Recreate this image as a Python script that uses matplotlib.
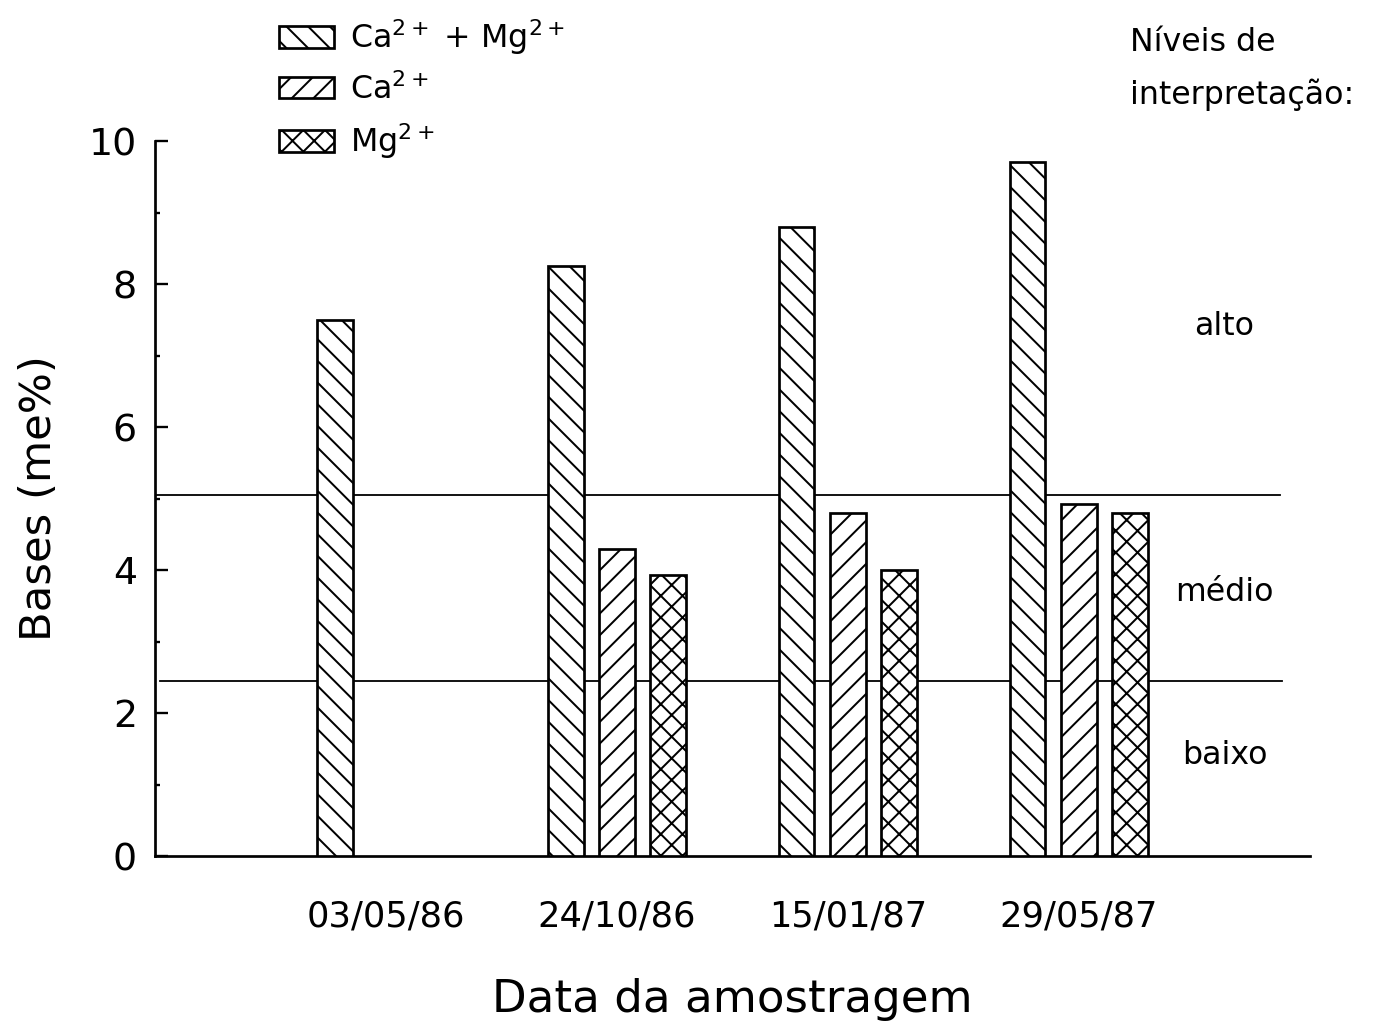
import numpy as np
import matplotlib
matplotlib.use("Agg")
import matplotlib.pyplot as plt

plt.rcParams["font.family"] = ["DejaVu Sans"]
plt.rcParams["mathtext.fontset"] = "dejavusans"
plt.rcParams["hatch.linewidth"] = 1.1

# ── data ────────────────────────────────────────────────────────────────
dates = ["03/05/86", "24/10/86", "15/01/87", "29/05/87"]
ca_mg = [7.5, 8.25, 8.8, 9.7]
ca = [np.nan, 4.3, 4.8, 4.92]
mg = [np.nan, 3.93, 4.0, 4.8]

limit_medio = 2.45   # baixo / médio boundary
limit_alto = 5.05    # médio / alto boundary
levels = ["alto", "médio", "baixo"]
level_y = [7.4, 3.68, 1.4]

INK = "black"
BAR_W = 0.152
STEP = 0.221

fig = plt.figure(figsize=(1377 / 130, 1022 / 130), dpi=130)
ax = fig.add_axes([0.1126, 0.1624, 0.9513 - 0.1126, 0.862 - 0.1624])

x = np.arange(1, len(dates) + 1)
series = [
    (ca_mg, "\\\\", r"Ca$^{2+}$ + Mg$^{2+}$"),
    (ca, "//", r"Ca$^{2+}$"),
    (mg, "xx", r"Mg$^{2+}$"),
]
handles = []
for i, (vals, hatch, label) in enumerate(series):
    bars = ax.bar(x + (i - 1) * STEP, vals, BAR_W, facecolor="white",
                  edgecolor=INK, hatch=hatch, lw=1.5, zorder=3, label=label)
    handles.append(bars)

# interpretation levels
ax.plot([0, 4.87], [limit_alto, limit_alto], color=INK, lw=1.0, zorder=1)
ax.plot([0.02, 4.88], [limit_medio, limit_medio], color=INK, lw=1.0, zorder=1)
for name, yy in zip(levels, level_y):
    ax.text(4.63, yy, name, ha="center", va="center", fontsize=17.5, color=INK)

ax.set_xlim(0, 5)
ax.set_ylim(0, 10)
ax.set_xticks(x)
ax.set_xticklabels(dates, fontsize=19.5)
ax.tick_params(axis="x", length=0, pad=24)
ax.set_yticks(np.arange(0, 11, 2))
ax.set_yticks(np.arange(1, 10, 2), minor=True)
ax.tick_params(axis="y", which="major", direction="in", length=7, width=1.3,
               labelsize=21, pad=10)
ax.tick_params(axis="y", which="minor", direction="in", length=3, width=1.3)
for side in ("top", "right"):
    ax.spines[side].set_visible(False)
for side in ("left", "bottom"):
    ax.spines[side].set_linewidth(1.5)

ax.set_ylabel("Bases (me%)", fontsize=24, labelpad=16)
ax.set_xlabel("Data da amostragem", fontsize=25, labelpad=25)

fig.legend(handles=handles, loc="upper left", bbox_to_anchor=(0.19, 1.0),
           frameon=False, fontsize=17.5, handlelength=1.75, handleheight=0.65,
           handletextpad=0.5, labelspacing=0.5, borderaxespad=0.15)

fig.text(0.8206, 0.958, "Níveis de", ha="left", va="center", fontsize=17.5)
fig.text(0.8206, 0.907, "interpretação:", ha="left", va="center", fontsize=17.5)

fig.savefig("out.png", dpi=130, facecolor="white")
